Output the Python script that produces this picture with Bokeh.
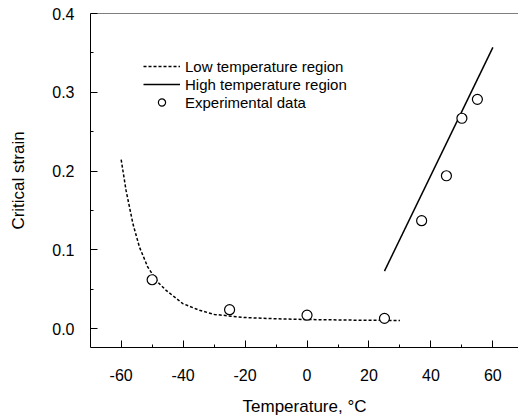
from bokeh.plotting import figure
from bokeh.models import Range1d, FixedTicker, Span, Legend, LegendItem, PrintfTickFormatter
from bokeh.embed import file_html
from bokeh.resources import INLINE

# Experimental data
temp_exp = [-50, -25, 0, 25, 37, 45, 50, 55]
strain_exp = [0.062, 0.024, 0.017, 0.013, 0.137, 0.194, 0.267, 0.291]

# Low temperature region (dashed curve)
low_t = [-60, -58.4, -56.2, -54.1, -51.4, -48.2, -45.5, -40.1, -34.7, -29.9, -20, -10, 0, 10, 20, 30]
low_s = [0.2145, 0.175, 0.133, 0.1035, 0.078, 0.059, 0.0486, 0.0317, 0.0232, 0.018,
         0.014, 0.0125, 0.0115, 0.011, 0.0105, 0.0103]

# High temperature region (solid line)
high_t = [25, 60]
high_s = [0.073, 0.357]

x_ticks = [-60, -40, -20, 0, 20, 40, 60]
x_minor = [-70, -50, -30, -10, 10, 30, 50, 70]
y_ticks = [0.0, 0.1, 0.2, 0.3, 0.4]
y_minor = [0.05, 0.15, 0.25, 0.35]

FONT = "Liberation Sans"

p = figure(width=518, height=419, output_backend="svg", toolbar_location=None,
           x_range=Range1d(-69.9, 68.27), y_range=Range1d(-0.024, 0.4),
           min_border_left=90, min_border_right=0, min_border_top=13, min_border_bottom=72)
p.grid.visible = False
p.outline_line_color = None

p.xaxis.ticker = FixedTicker(ticks=x_ticks, minor_ticks=x_minor)
p.yaxis.ticker = FixedTicker(ticks=y_ticks, minor_ticks=y_minor)
p.xaxis.formatter = PrintfTickFormatter(format="%d")
p.yaxis.formatter = PrintfTickFormatter(format="%.1f")
p.xaxis.axis_label = "Temperature, °C"
p.yaxis.axis_label = "Critical strain"

for ax in (p.xaxis[0], p.yaxis[0]):
    ax.axis_line_color = "black"
    ax.axis_line_width = 1
    ax.major_tick_line_color = "black"
    ax.minor_tick_line_color = "black"
    ax.major_tick_in = 7
    ax.major_tick_out = 0
    ax.minor_tick_in = 3
    ax.minor_tick_out = 0
    ax.major_label_text_font = FONT
    ax.major_label_text_font_size = "16px"
    ax.major_label_text_color = "black"
    ax.axis_label_text_font = FONT
    ax.axis_label_text_font_size = "17px"
    ax.axis_label_text_font_style = "normal"
    ax.axis_label_text_color = "black"

p.xaxis.major_label_standoff = 21
p.xaxis.axis_label_standoff = 13
p.yaxis.major_label_standoff = 16
p.yaxis.axis_label_standoff = 21

p.add_layout(Span(location=0.4, dimension="width", line_color="black", line_width=1))

low = p.line(low_t, low_s, line_color="black", line_width=1.5, line_dash="3 2")
high = p.line(high_t, high_s, line_color="black", line_width=1.5)
exp = p.scatter(temp_exp, strain_exp, marker="circle", size=10, fill_color="white",
                line_color="black", line_width=1.2)

legend = Legend(items=[
    LegendItem(label="Low temperature region", renderers=[low]),
    LegendItem(label="High temperature region", renderers=[high]),
    LegendItem(label="Experimental data", renderers=[exp]),
], location=(53, 236))
legend.glyph_width = 37
legend.glyph_height = 18
legend.label_height = 18
legend.spacing = 0
legend.padding = 0
legend.margin = 0
legend.label_standoff = 5
legend.border_line_color = None
legend.background_fill_alpha = 0
legend.label_text_font = FONT
legend.label_text_font_size = "15px"
legend.label_text_color = "black"
p.add_layout(legend)

open("out.html", "w").write(file_html(p, INLINE))
